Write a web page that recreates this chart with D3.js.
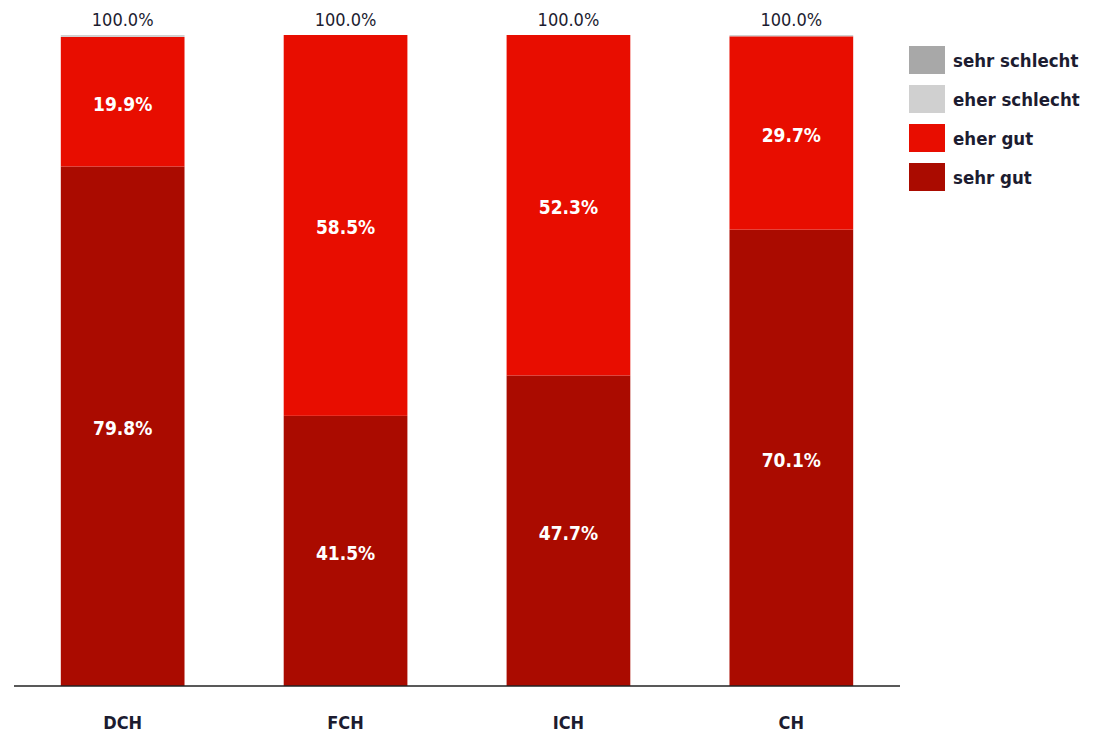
<!DOCTYPE html>
<html>
<head>
<meta charset="utf-8">
<script src="https://cdn.jsdelivr.net/npm/d3@7"></script>
<style>
    body { margin: 0; background: #fff; }
    text { font-family: "DejaVu Sans Condensed", "DejaVu Sans", sans-serif; }
</style>
</head>
<body>
<svg id="chart" width="1101" height="739"></svg>
<script>
"use strict";

// data
var regions = ['DCH', 'FCH', 'ICH', 'CH'];
var seriesNames = ['sehr gut', 'eher gut', 'eher schlecht', 'sehr schlecht'];
var sehrGut = [79.8, 41.5, 47.7, 70.1];
var eherGut = [19.9, 58.5, 52.3, 29.7];
var eherSchlecht = [0.3, 0, 0, 0.2];
var sehrSchlecht = [0, 0, 0, 0];
var totals = [100.0, 100.0, 100.0, 100.0];

var colors = {
    'sehr gut': '#aa0b00',
    'eher gut': '#e80d00',
    'eher schlecht': '#d0d0d0',
    'sehr schlecht': '#a8a8a8'
};

var margin = {top: 35, left: 14, bottom: 53, right: 201};
var width = 1101, height = 739;

var svg = d3.select('#chart');

var rows = regions.map(function(r, i) {
    return {
        region: r,
        'sehr gut': sehrGut[i],
        'eher gut': eherGut[i],
        'eher schlecht': eherSchlecht[i],
        'sehr schlecht': sehrSchlecht[i],
        total: totals[i]
    };
});

var x = d3.scaleBand()
    .domain(regions)
    .range([margin.left, width - margin.right])
    .paddingInner(0.445)
    .paddingOuter(0.21);

var y = d3.scaleLinear()
    .domain([0, 100])
    .range([height - margin.bottom, margin.top]);

var stacked = d3.stack().keys(seriesNames)(rows);

var layers = svg.append('g')
    .selectAll('g')
    .data(stacked)
    .join('g')
    .attr('fill', function(d) { return colors[d.key]; });

layers.selectAll('rect')
    .data(function(d) { return d; })
    .join('rect')
    .attr('x', function(d) { return x(d.data.region); })
    .attr('width', x.bandwidth())
    .attr('y', function(d) { return y(d[1]); })
    .attr('height', function(d) { return y(d[0]) - y(d[1]); });

// segment labels (only the two red series carry values)
stacked.slice(0, 2).forEach(function(layer) {
    svg.append('g')
        .selectAll('text')
        .data(layer)
        .join('text')
        .attr('x', function(d) { return x(d.data.region) + x.bandwidth() / 2; })
        .attr('y', function(d) { return (y(d[0]) + y(d[1])) / 2 + 9; })
        .attr('text-anchor', 'middle')
        .attr('fill', '#fff')
        .attr('font-weight', 'bold')
        .attr('font-size', 19)
        .text(function(d) { return (d[1] - d[0]).toFixed(1) + '%'; });
});

// totals on top
svg.append('g')
    .selectAll('text')
    .data(rows)
    .join('text')
    .attr('x', function(d) { return x(d.region) + x.bandwidth() / 2; })
    .attr('y', function(d) { return y(d.total) - 9; })
    .attr('text-anchor', 'middle')
    .attr('fill', '#1c1c30')
    .attr('font-size', 18)
    .text(function(d) { return d.total.toFixed(1) + '%'; });

// x axis
var xAxis = svg.append('g')
    .attr('transform', 'translate(0,' + y(0) + ')')
    .call(d3.axisBottom(x).tickSize(0).tickPadding(30));

xAxis.select('.domain')
    .attr('stroke', '#222')
    .attr('stroke-width', 1.5)
    .attr('d', 'M' + margin.left + ',0H' + (width - margin.right));

xAxis.selectAll('text')
    .attr('font-size', 18)
    .attr('font-weight', 'bold')
    .attr('fill', '#1c1c30')
    .style('font-family', '"DejaVu Sans Condensed", "DejaVu Sans", sans-serif');

// legend
var legendOrder = ['sehr schlecht', 'eher schlecht', 'eher gut', 'sehr gut'];
var legend = svg.append('g')
    .attr('transform', 'translate(909,46)');

var item = legend.selectAll('g')
    .data(legendOrder)
    .join('g')
    .attr('transform', function(d, i) { return 'translate(0,' + (i * 39) + ')'; });

item.append('rect')
    .attr('width', 36)
    .attr('height', 28)
    .attr('fill', function(d) { return colors[d]; });

item.append('text')
    .attr('x', 44)
    .attr('y', 21)
    .attr('font-size', 18.5)
    .attr('font-weight', 'bold')
    .attr('fill', '#1c1c30')
    .text(function(d) { return d; });
</script>
</body>
</html>
